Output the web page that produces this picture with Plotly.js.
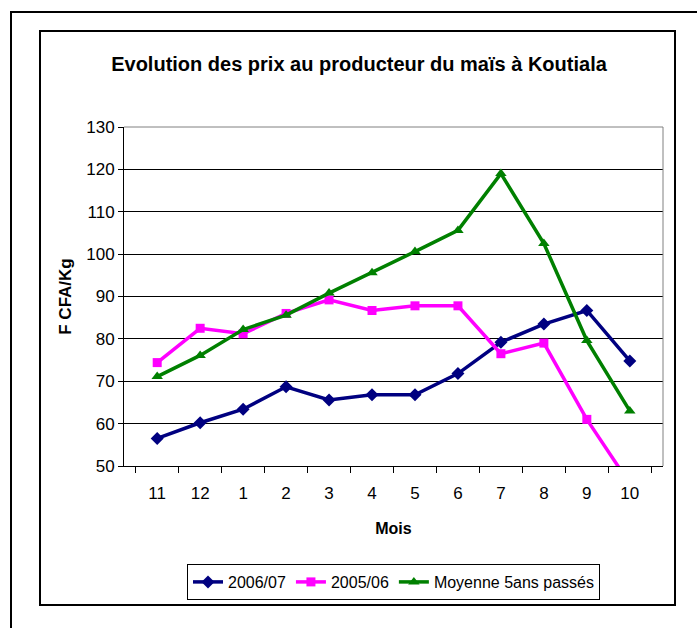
<!DOCTYPE html>
<html>
<head>
<meta charset="utf-8">
<script src="https://cdn.plot.ly/plotly-3.0.1.min.js"></script>
<style>html,body{margin:0;padding:0;background:#fff;}#chart{width:697px;height:628px;}</style>
</head>
<body>
<div id="chart"></div>
<script>
var months = ["11","12","1","2","3","4","5","6","7","8","9","10"];
var s2006 = [56.5, 60.2, 63.4, 68.7, 65.6, 66.8, 66.8, 71.8, 79.2, 83.5, 86.7, 74.8];
var s2005 = [74.4, 82.5, 81.2, 86.0, 89.2, 86.7, 87.8, 87.8, 76.5, 79.0, 61.0, 45.8];
var sMoy = [71.1, 76.1, 82.2, 85.6, 90.8, 95.6, 100.6, 105.6, 119.0, 102.5, 79.6, 63.0];
var names = ["2006/07", "2005/06", "Moyenne 5ans passés"];

var W = 697, H = 628, L = 124, R = 663, T = 127, B = 466;
function px(x){ return (x - L) / (R - L); }
function py(y){ return (B - y) / (B - T); }

var font = "Liberation Sans, Arial, sans-serif";
var traces = [
  {x: months, y: s2006, name: names[0], mode: "lines+markers",
   line: {color: "#000080", width: 3.5}, marker: {symbol: "diamond", size: 10, color: "#000080"}},
  {x: months, y: s2005, name: names[1], mode: "lines+markers",
   line: {color: "#FF00FF", width: 3.5}, marker: {symbol: "square", size: 9, color: "#FF00FF"}},
  {x: months, y: sMoy, name: names[2], mode: "lines+markers",
   line: {color: "#008000", width: 3.5}, marker: {symbol: "triangle-up", size: 10, color: "#008000"}}
];

var layout = {
  width: W, height: H,
  margin: {l: L, r: W - R, t: T, b: H - B},
  paper_bgcolor: "#fff", plot_bgcolor: "#fff",
  font: {family: font, size: 16, color: "#000"},
  title: {text: "<b>Evolution des prix au producteur du maïs à Koutiala</b>",
          font: {family: font, size: 20, color: "#000"},
          x: 359 / W, xref: "container", xanchor: "center",
          y: 1 - 64 / H, yref: "container", yanchor: "middle"},
  xaxis: {type: "category", tickson: "boundaries", ticks: "outside", ticklen: 6, tickcolor: "#000",
          showline: true, linecolor: "#000", linewidth: 1, showgrid: false, zeroline: false,
          tickfont: {family: font, size: 17}, ticklabelstandoff: 12, fixedrange: true,
          title: {text: "<b>Mois</b>", font: {family: font, size: 16}, standoff: 20}},
  yaxis: {range: [50, 130], dtick: 10, ticks: "outside", ticklen: 5, tickcolor: "#000",
          showline: true, linecolor: "#000", linewidth: 1, showgrid: true, gridcolor: "#000", gridwidth: 1,
          zeroline: false, tickfont: {family: font, size: 17}, fixedrange: true,
          title: {text: "<b>F CFA/Kg</b>", font: {family: font, size: 17}, standoff: 10}},
  showlegend: true,
  legend: {orientation: "h", x: 0.5, xanchor: "center", y: py(564), yanchor: "top",
           bordercolor: "#000", borderwidth: 1, bgcolor: "#fff",
           font: {family: font, size: 16}, itemwidth: 30, tracegroupgap: 0},
  shapes: [
    {type: "line", xref: "paper", yref: "paper", x0: 0, x1: 1, y0: 1, y1: 1, line: {color: "#808080", width: 1}},
    {type: "line", xref: "paper", yref: "paper", x0: 1, x1: 1, y0: 0, y1: 1, line: {color: "#808080", width: 1}},
    {type: "rect", xref: "paper", yref: "paper", x0: px(40), x1: px(675), y0: py(605), y1: py(31),
     line: {color: "#000", width: 2}, layer: "below"},
    {type: "rect", xref: "paper", yref: "paper", x0: px(11), x1: px(710), y0: py(640), y1: py(12),
     line: {color: "#000", width: 2}, layer: "below"}
  ]
};

Plotly.newPlot("chart", traces, layout, {displayModeBar: false, staticPlot: true});
</script>
</body>
</html>
